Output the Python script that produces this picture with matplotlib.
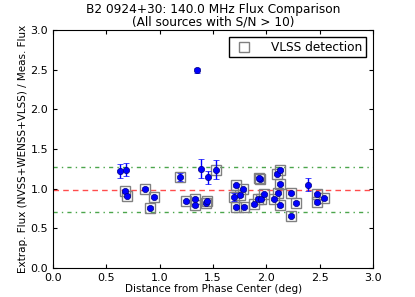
import matplotlib
matplotlib.use("Agg")
import matplotlib.pyplot as plt
import numpy as np

dist = [0.63, 0.68, 0.67, 0.69, 0.86, 0.95, 0.91, 1.19, 1.35, 1.39, 1.45, 1.53,
        1.25, 1.33, 1.33, 1.43, 1.44, 1.71, 1.78, 1.75, 1.70, 1.71, 1.79, 1.94,
        1.93, 1.88, 1.92, 1.95, 1.98, 2.07, 2.11, 2.13, 2.10, 2.13, 2.13, 2.23,
        2.28, 2.23, 2.39, 2.47, 2.47, 2.54]
ratio = [1.22, 1.24, 0.97, 0.91, 1.00, 0.90, 0.76, 1.15, 2.49, 1.25, 1.14, 1.24,
         0.84, 0.87, 0.79, 0.82, 0.84, 1.04, 0.99, 0.92, 0.89, 0.77, 0.77, 1.12,
         1.13, 0.80, 0.87, 0.87, 0.93, 0.87, 0.95, 0.79, 1.19, 1.24, 1.06, 0.95,
         0.82, 0.66, 1.05, 0.93, 0.83, 0.88]
err = [0.09, 0.08, 0.02, 0.02, 0.02, 0.02, 0.02, 0.05, 0.03, 0.12, 0.08, 0.12,
       0.02, 0.02, 0.02, 0.02, 0.02, 0.02, 0.02, 0.02, 0.05, 0.02, 0.02, 0.02,
       0.02, 0.02, 0.02, 0.02, 0.02, 0.02, 0.02, 0.02, 0.02, 0.02, 0.02, 0.02,
       0.02, 0.02, 0.08, 0.02, 0.02, 0.02]
vlss = [0, 0, 1, 1, 1, 1, 1, 1, 0, 0, 0, 1,
        1, 1, 1, 1, 1, 1, 1, 1, 1, 1, 1, 1,
        1, 1, 1, 1, 1, 1, 1, 1, 1, 1, 1, 1,
        1, 1, 0, 1, 1, 1]
mean_ratio = 0.98
lower_lim = 0.71
upper_lim = 1.27

dist = np.array(dist); ratio = np.array(ratio); err = np.array(err)
vlss = np.array(vlss, dtype=bool)

plt.rcParams['font.family'] = ['DejaVu Sans']
fig = plt.figure(figsize=(4.15, 2.97), dpi=100)
ax = fig.add_axes([0.128, 0.098, 0.771, 0.801])

ax.axhline(mean_ratio, color='r', ls=(0, (4, 3)), lw=1, alpha=0.7)
ax.axhline(upper_lim, color='g', ls=(0, (3, 3, 1, 3)), lw=1, alpha=0.7)
ax.axhline(lower_lim, color='g', ls=(0, (3, 3, 1, 3)), lw=1, alpha=0.7)

ax.plot(dist[vlss], ratio[vlss], 's', ms=7.5, mfc='none', mec='gray', mew=1.0,
        label='VLSS detection')
ax.errorbar(dist, ratio, yerr=err, fmt='o', color='b', ms=4.5, ecolor='b',
            elinewidth=1, capsize=2.5, mec='navy', mew=0.5)

ax.set_xlim(0, 3)
ax.set_ylim(0, 3)
ax.set_xticks(np.arange(0, 3.01, 0.5))
ax.set_yticks(np.arange(0, 3.01, 0.5))
ax.tick_params(direction='in', top=True, right=True, labelsize=8, length=3)
ax.set_xlabel('Distance from Phase Center (deg)', fontsize=7.5, labelpad=1)
ax.set_ylabel('Extrap. Flux (NVSS+WENSS+VLSS) / Meas. Flux', fontsize=7.5, labelpad=2)
ax.set_title('B2 0924+30: 140.0 MHz Flux Comparison\n(All sources with S/N > 10)',
             fontsize=8.7, pad=3, linespacing=1.0)
leg = ax.legend(loc='upper right', numpoints=1, fontsize=8.7, fancybox=False,
                framealpha=1, borderpad=0.3, handletextpad=1.2,
                borderaxespad=0.6)
leg.get_frame().set_edgecolor('black')

fig.savefig('out.png', dpi=100, facecolor='white')
